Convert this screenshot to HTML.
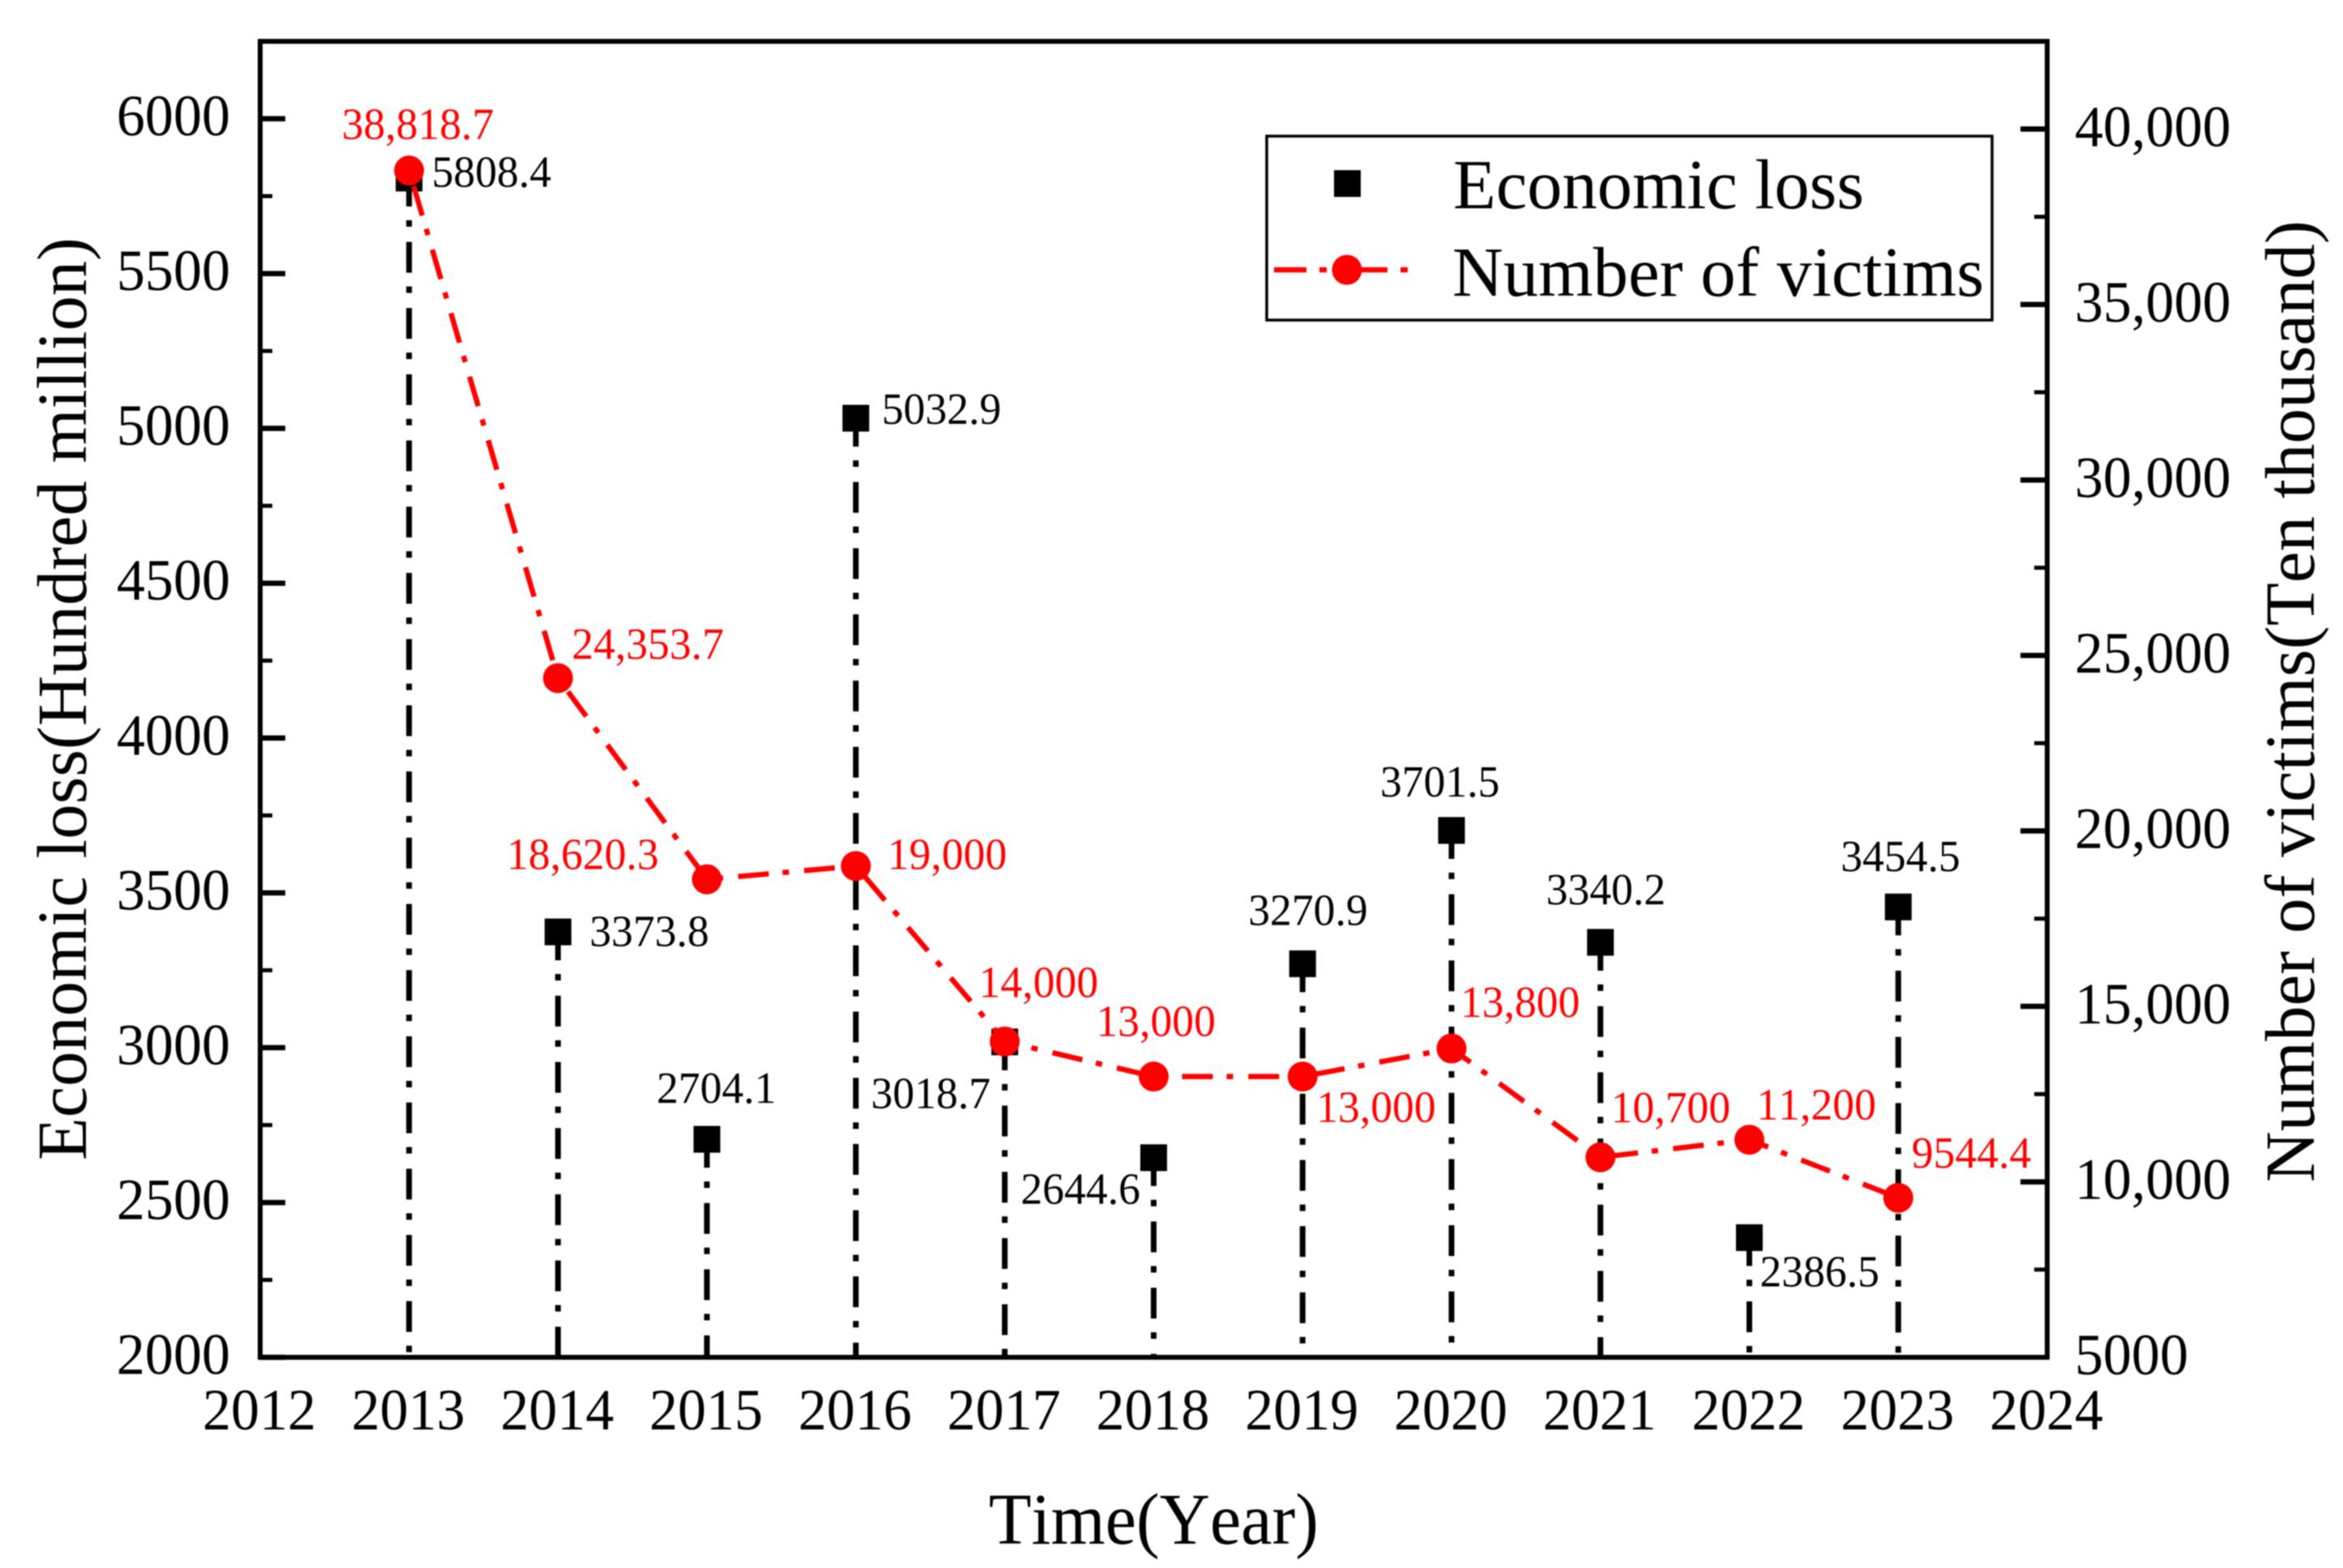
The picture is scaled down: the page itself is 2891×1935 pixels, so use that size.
<!DOCTYPE html>
<html lang="en">
<head>
<meta charset="utf-8">
<title>Economic loss and number of victims, 2013-2023</title>
<style>
  html, body { margin: 0; padding: 0; background: #fff; }
  body { width: 2891px; height: 1935px; overflow: hidden; }
  svg { display: block; filter: blur(0.7px); }
  text { font-family: "Liberation Serif", "Times New Roman", serif; font-kerning: none; }
</style>
</head>
<body>
<svg id="chart" xmlns="http://www.w3.org/2000/svg" width="2891" height="1935" viewBox="0 0 2891 1935">
  <rect x="0" y="0" width="2891" height="1935" fill="#fff"/>
  <g id="ticks"></g>
  <g id="tick-labels"></g>
  <g id="drops"></g>
  <g id="squares"></g>
  <g id="victims"></g>
  <g id="value-labels"></g>
  <rect x="321" y="51" width="2205" height="1624" fill="none" stroke="#000" stroke-width="6"/>

  <text x="1220" y="1905" font-size="90" fill="#000" textLength="407" lengthAdjust="spacingAndGlyphs">Time(Year)</text>
  <text transform="translate(106 1432) rotate(-90)" font-size="87" fill="#000" textLength="1139" lengthAdjust="spacingAndGlyphs">Economic loss(Hundred million)</text>
  <text transform="translate(2855 1459) rotate(-90)" font-size="87" fill="#000" textLength="1187" lengthAdjust="spacingAndGlyphs">Number of victims(Ten thousand)</text>

  <g>
    <rect x="1563" y="168" width="895" height="227" fill="#fff" stroke="#000" stroke-width="3.5"/>
    <g>
      <rect x="1646" y="210" width="33" height="33" fill="#000"/>
      <text x="1793" y="257" font-size="87" fill="#000" textLength="507" lengthAdjust="spacingAndGlyphs">Economic loss</text>
    </g>
    <g>
      <line x1="1572" y1="333" x2="1748" y2="333" stroke="#f00" stroke-width="6.5" stroke-dasharray="40 16 9 35"/>
      <circle cx="1662" cy="333" r="18.5" fill="#f00"/>
      <text x="1792" y="365" font-size="87" fill="#000" textLength="656" lengthAdjust="spacingAndGlyphs">Number of victims</text>
    </g>
  </g>
</svg>

<script>
// ---- chart data ----
const years = [2013, 2014, 2015, 2016, 2017, 2018, 2019, 2020, 2021, 2022, 2023];
const economicLoss = [5808.4, 3373.8, 2704.1, 5032.9, 3018.7, 2644.6, 3270.9, 3701.5, 3340.2, 2386.5, 3454.5];
const victims = [38818.7, 24353.7, 18620.3, 19000, 14000, 13000, 13000, 13800, 10700, 11200, 9544.4];
const lossLabels = ['5808.4', '3373.8', '2704.1', '5032.9', '3018.7', '2644.6', '3270.9', '3701.5', '3340.2', '2386.5', '3454.5'];
const victimLabels = ['38,818.7', '24,353.7', '18,620.3', '19,000', '14,000', '13,000', '13,000', '13,800', '10,700', '11,200', '9544.4'];
const xTickLabels = ['2012', '2013', '2014', '2015', '2016', '2017', '2018', '2019', '2020', '2021', '2022', '2023', '2024'];
const leftTicks = [2000, 2500, 3000, 3500, 4000, 4500, 5000, 5500, 6000];
const leftMinorTicks = [2250, 2750, 3250, 3750, 4250, 4750, 5250, 5750];
const rightTicks = [10000, 15000, 20000, 25000, 30000, 35000, 40000];
const rightTickLabels = ['10,000', '15,000', '20,000', '25,000', '30,000', '35,000', '40,000'];
const rightMinorTicks = [7500, 12500, 17500, 22500, 27500, 32500, 37500];

// ---- label layout: offset of each printed value from its own mark ----
const lossLabelOffset = [[28,11],[39,17.5],[-62,-45],[32,7],[-165,82],[-164,57],[-67,-48],[-88,-42],[-67,-47],[13,60],[-71,-44]];
const victimLabelOffset = [[-83,-39],[17,-24],[-247,-12.5],[39,4],[-32,-54.5],[-71,-50],[17,56],[11,-39],[13,-43],[9,-25],[16.5,-37]];

// ---- axis functions ----
const plot = { left: 321, right: 2526, top: 51, bottom: 1675 };
function xScale(year) { return plot.left + (year - 2012) / (2024 - 2012) * (plot.right - plot.left); }
function yLeft(v) { return plot.bottom - (v - 2000) / (6250 - 2000) * (plot.bottom - plot.top); }
function yRight(v) { return plot.bottom - (v - 5000) / (42500 - 5000) * (plot.bottom - plot.top); }

const NS = 'http://www.w3.org/2000/svg';
function mk(parent, tag, attrs, txt) {
  const el = document.createElementNS(NS, tag);
  for (const k in attrs) el.setAttribute(k, attrs[k]);
  if (txt !== undefined) el.textContent = txt;
  parent.appendChild(el);
  return el;
}
function place(x, y, sx) { return 'translate(' + x + ' ' + y + ') scale(' + sx + ' 1)'; }

const gTicks = document.getElementById('ticks');
const gLabels = document.getElementById('tick-labels');
const gDrops = document.getElementById('drops');
const gSquares = document.getElementById('squares');
const gVictims = document.getElementById('victims');
const gValues = document.getElementById('value-labels');

// left axis
leftTicks.forEach(function (v) {
  const t = mk(gTicks, 'line', { x1: plot.left, x2: 352, y1: yLeft(v), y2: yLeft(v), stroke: '#000', 'stroke-width': 6.5 });
  
  
  const l = mk(gLabels, 'text', { transform: place(284, yLeft(v) + 20.5, 0.98), 'text-anchor': 'end', 'font-size': 71.5, fill: '#000' }, String(v));
  
  
});
leftMinorTicks.forEach(function (v) {
  const t = mk(gTicks, 'line', { x1: plot.left, x2: 336, y1: yLeft(v), y2: yLeft(v), stroke: '#000', 'stroke-width': 5 });
  
  
});

// right axis
rightTicks.forEach(function (v, i) {
  const t = mk(gTicks, 'line', { x1: plot.right, x2: 2493, y1: yRight(v), y2: yRight(v), stroke: '#000', 'stroke-width': 6.5 });
  
  
  const l = mk(gLabels, 'text', { transform: place(2560, yRight(v) + 21, 0.98), 'font-size': 71.5, fill: '#000' }, rightTickLabels[i]);
  
  
});
rightMinorTicks.forEach(function (v) {
  const t = mk(gTicks, 'line', { x1: plot.right, x2: 2510, y1: yRight(v), y2: yRight(v), stroke: '#000', 'stroke-width': 5 });
  
  
});
const bottomRightLabel = mk(gLabels, 'text', { transform: place(2560, yRight(5000) + 21, 0.98), 'font-size': 71.5, fill: '#000' }, '5000');



// x axis labels
xTickLabels.forEach(function (lab) {
  const l = mk(gLabels, 'text', { transform: place(xScale(Number(lab)) - 1, 1764, 0.98), 'text-anchor': 'middle', 'font-size': 71.5, fill: '#000' }, lab);
  
  
});

// economic loss: drop lines, squares, labels
years.forEach(function (yr, i) {
  const x = xScale(yr);
  const y = yLeft(economicLoss[i]);
  const d = mk(gDrops, 'line', { x1: x, x2: x, y1: y, y2: plot.bottom, stroke: '#000', 'stroke-width': 7, 'stroke-dasharray': '38 17 8 18.7', 'stroke-dashoffset': 3 });
  
  
  const s = mk(gSquares, 'rect', { x: x - 16.5, y: y - 16.5, width: 33, height: 33, fill: '#000' });
  
  
  const t = mk(gValues, 'text', { transform: place(x + lossLabelOffset[i][0], y + lossLabelOffset[i][1], 0.975), 'font-size': 55, fill: '#000' }, lossLabels[i]);
  
  
});

// victims: dash-dot line, circles, labels
const victimPoints = years.map(function (yr, i) { return xScale(yr) + ',' + yRight(victims[i]); }).join(' ');
const victimLine = mk(gVictims, 'polyline', { points: victimPoints, fill: 'none', stroke: '#f00', 'stroke-width': 6.5, 'stroke-dasharray': '38 17 8 18.7', 'stroke-dashoffset': -20 });


years.forEach(function (yr, i) {
  const x = xScale(yr);
  const y = yRight(victims[i]);
  const c = mk(gVictims, 'circle', { cx: x, cy: y, r: 18.5, fill: '#f00' });
  
  
  const t = mk(gValues, 'text', { transform: place(x + victimLabelOffset[i][0], y + victimLabelOffset[i][1], 0.975), 'font-size': 55, fill: '#f00' }, victimLabels[i]);
  
  
});
</script>
</body>
</html>
